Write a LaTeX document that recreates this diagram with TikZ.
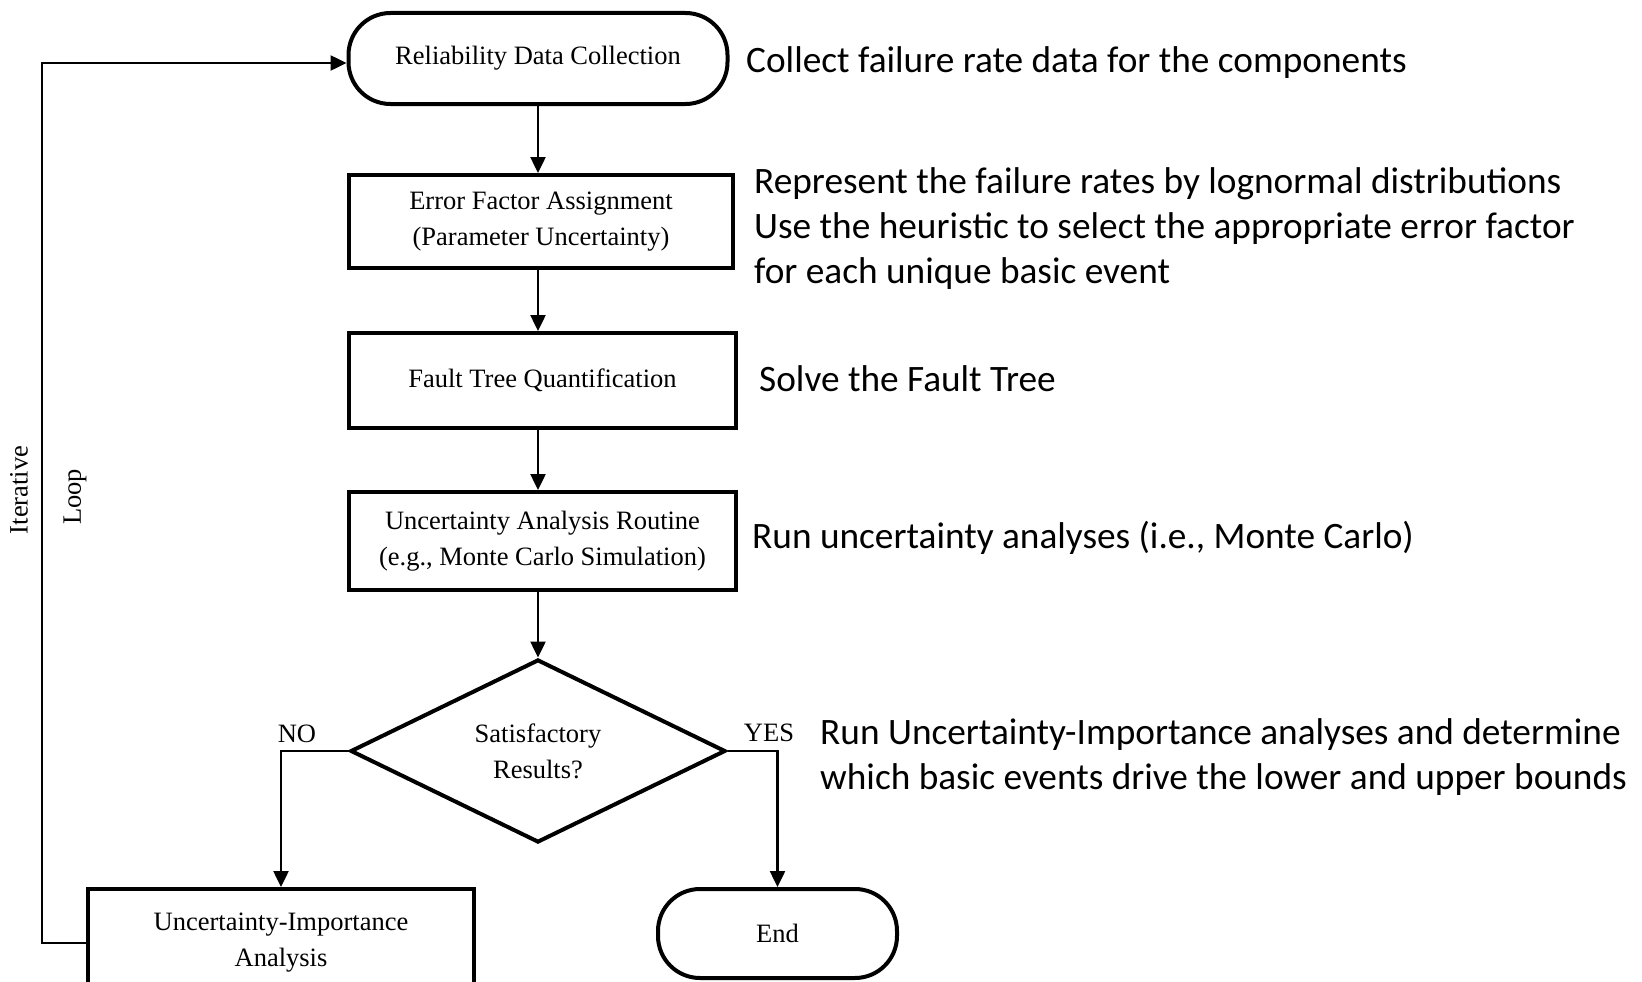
\documentclass[tikz,border=0pt]{standalone}
\usepackage{fontspec}
\setmainfont{Liberation Serif}
\newfontfamily\annfont{Carlito}
\usetikzlibrary{arrows.meta,shapes.geometric}
\begin{document}
\begin{tikzpicture}[x=1pt,y=1pt,
  box/.style={draw,line width=4pt,rectangle,inner sep=0pt,align=center,font=\fontsize{26.5}{36}\selectfont},
  term/.style={box,rounded corners=42pt},
  dec/.style={draw,line width=4pt,diamond,inner sep=0pt,align=center,font=\fontsize{26.5}{36}\selectfont},
  conn/.style={line width=2.5pt,-{Triangle[length=16pt,width=15pt]}},
  ann/.style={anchor=west,inner sep=0pt,align=left,font=\annfont\fontsize{37.3}{45}\selectfont},
  lbl/.style={inner sep=0pt,font=\fontsize{26.5}{36}\selectfont}]
\useasboundingbox (0,0) rectangle (1642,-982);
\clip (0,0) rectangle (1642,-982);
\fill[white] (0,0) rectangle (1642,-982);

\node[term,minimum width=379pt,minimum height=91pt] (rdc) at (538,-58.5) {Reliability Data Collection};
\node[box,minimum width=384pt,minimum height=93pt] (efa) at (541,-221.5) {Error Factor Assignment\\(Parameter Uncertainty)};
\node[box,minimum width=387pt,minimum height=95pt] (ftq) at (542.5,-380.5) {Fault Tree Quantification};
\node[box,minimum width=387pt,minimum height=98pt] (uar) at (542.5,-541) {Uncertainty Analysis Routine\\(e.g., Monte Carlo Simulation)};
\node[dec,minimum width=375pt,minimum height=183pt] (dia) at (538,-751) {Satisfactory\\Results?};
\node[box,minimum width=386pt,minimum height=108pt] (uia) at (281,-943) {Uncertainty-Importance\\Analysis};
\node[term,minimum width=239pt,minimum height=89pt] (end) at (777.5,-933.5) {End};

\draw[conn] (rdc.south) -- (rdc.south |- efa.north);
\draw[conn] (rdc.south |- efa.south) -- (rdc.south |- ftq.north);
\draw[conn] (rdc.south |- ftq.south) -- (rdc.south |- uar.north);
\draw[conn] (rdc.south |- uar.south) -- (dia.north);
\draw[conn] (dia.west) -| (uia.north);
\draw[conn] (dia.east) -| (end.north);
\coordinate (lp) at (42,-943);
\coordinate (lt) at ([yshift=-4.5pt]rdc.west);
\draw[conn] (uia.west) -- (lp) -- (lp |- lt) -- (lt);

\node[lbl,rotate=90] (it) at (19,-490) {Iterative};
\node[lbl,rotate=90] (lo) at (75,-497) {Loop};
\node[lbl] (no) at (297,-734) {NO};
\node[lbl] (yes) at (769,-733) {YES};

\node[ann] (a1) at (746,-63) {Collect failure rate data for the components};
\node[ann] (a2) at (754,-229) {Represent the failure rates by lognormal distributions\\Use the heuristic to select the appropriate error factor\\for each unique basic event};
\node[ann] (a3) at (759,-379) {Solve the Fault Tree};
\node[ann] (a4) at (752,-538) {Run uncertainty analyses (i.e., Monte Carlo)};
\node[ann] (a5) at (820,-757) {Run Uncertainty-Importance analyses and determine\\which basic events drive the lower and upper bounds};
\end{tikzpicture}
\end{document}
